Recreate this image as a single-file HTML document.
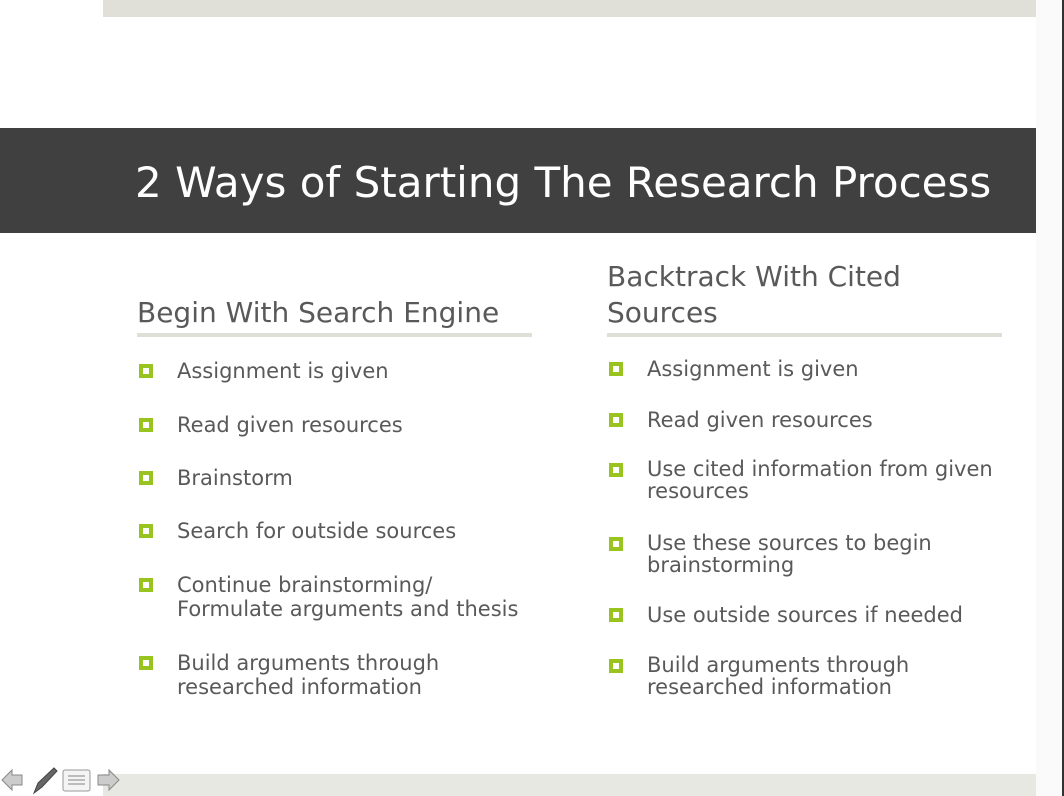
<!DOCTYPE html>
<html><head><style>
body{margin:0;width:1064px;height:796px;background:#fff;position:relative;overflow:hidden;font-family:"DejaVu Sans","Liberation Sans",sans-serif;color:#595959}
div{position:absolute}
.t{font-size:21px;line-height:24px;white-space:nowrap}
.h{font-size:28px;line-height:36px;white-space:nowrap}
.b{width:6px;height:6px;border:4px solid #99c41f;background:#fff}
</style></head><body>
<div style="left:103px;top:0;width:933px;height:17px;background:#e0e0d8"></div>
<div style="left:1036px;top:0;width:26px;height:796px;background:#fafafa"></div>
<div style="left:1062px;top:0;width:2px;height:796px;background:#333"></div>
<div style="left:0;top:128px;width:1036px;height:105px;background:#404040"></div>
<div style="left:135px;top:158px;font-size:42px;line-height:50px;color:#fff;white-space:nowrap">2 Ways of Starting The Research Process</div>
<div style="left:103px;top:774px;width:933px;height:22px;background:#e8e8e2"></div>

<div class="h" style="left:137px;top:295px">Begin With Search Engine</div>
<div style="left:137px;top:333px;width:395px;height:4px;background:#dedfd7"></div>
<div class="h" style="left:607px;top:259px;white-space:normal;width:420px">Backtrack With Cited<br>Sources</div>
<div style="left:607px;top:333px;width:395px;height:4px;background:#dedfd7"></div>

<div class="b" style="left:139px;top:364px"></div><div class="t" style="left:177px;top:359px">Assignment is given</div>
<div class="b" style="left:139px;top:418px"></div><div class="t" style="left:177px;top:413px">Read given resources</div>
<div class="b" style="left:139px;top:471px"></div><div class="t" style="left:177px;top:466px">Brainstorm</div>
<div class="b" style="left:139px;top:524px"></div><div class="t" style="left:177px;top:519px">Search for outside sources</div>
<div class="b" style="left:139px;top:578px"></div><div class="t" style="left:177px;top:573px">Continue brainstorming/<br>Formulate arguments and thesis</div>
<div class="b" style="left:139px;top:656px"></div><div class="t" style="left:177px;top:651px">Build arguments through<br>researched information</div>

<div class="b" style="left:609px;top:362px"></div><div class="t" style="left:647px;top:357px">Assignment is given</div>
<div class="b" style="left:609px;top:413px"></div><div class="t" style="left:647px;top:408px">Read given resources</div>
<div class="b" style="left:609px;top:463px"></div><div class="t" style="left:647px;top:458px;line-height:22px">Use cited information from given<br>resources</div>
<div class="b" style="left:609px;top:537px"></div><div class="t" style="left:647px;top:532px;line-height:22px">Use these sources to begin<br>brainstorming</div>
<div class="b" style="left:609px;top:608px"></div><div class="t" style="left:647px;top:603px">Use outside sources if needed</div>
<div class="b" style="left:609px;top:659px"></div><div class="t" style="left:647px;top:654px;line-height:22px">Build arguments through<br>researched information</div>

<svg style="position:absolute;left:0;top:765px" width="125" height="31">
<path d="M2 15 L12 5 L12 10 L22 10 L22 20 L12 20 L12 25 Z" fill="#ccc" stroke="#888"/>
<path d="M34 28 L38 18 L54 3 L57 6 L42 22 Z" fill="#666" stroke="#444"/>
<rect x="63" y="5" width="27" height="21" rx="2" fill="#f4f4f4" stroke="#999"/>
<path d="M68 11h17M68 15h17M68 19h17" stroke="#aaa" stroke-width="1.5"/>
<path d="M119 15 L109 5 L109 10 L98 10 L98 20 L109 20 L109 25 Z" fill="#ccc" stroke="#888"/>
</svg>
</body></html>
